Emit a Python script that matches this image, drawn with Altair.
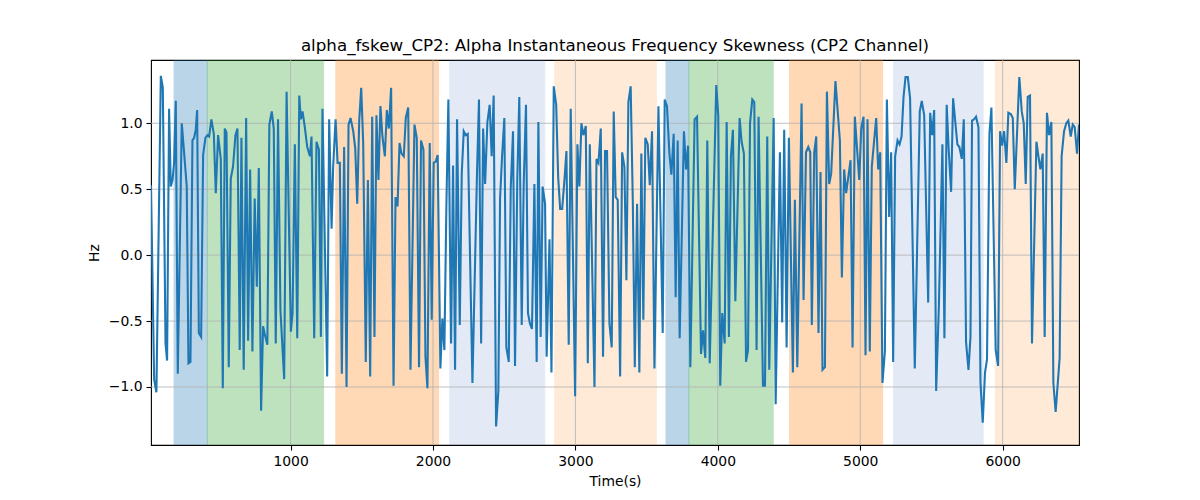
import altair as alt
import pandas as pd

TITLE = "alpha_fskew_CP2: Alpha Instantaneous Frequency Skewness (CP2 Channel)"

time_s = [
    20, 42, 58, 89, 103, 122, 133, 147, 159, 171, 182, 194, 208, 236, 253, 271, 283, 297, 311, 323,
    334, 344, 356, 372, 386, 402, 416, 428, 444, 461, 475, 491, 510, 524, 538, 550, 566, 580, 596, 613,
    627, 643, 655, 671, 688, 702, 716, 732, 748, 763, 777, 793, 807, 823, 837, 851, 868, 882, 896, 912, 929,
    955, 972, 1002, 1014, 1030, 1047, 1061, 1072, 1084, 1100, 1117, 1136, 1147, 1166, 1182, 1199, 1213, 1224, 1257, 1271,
    1288, 1299, 1316, 1330, 1346, 1360, 1376, 1393, 1407, 1421, 1440, 1454, 1468, 1482, 1496, 1510, 1528, 1543, 1559, 1573,
    1589, 1603, 1617, 1631, 1645, 1662, 1676, 1690, 1706, 1723, 1737, 1751, 1765, 1779, 1795, 1809, 1826, 1842,
    1870, 1886, 1902, 1916, 1933, 1947, 1961, 1977, 1991, 2005, 2019, 2033, 2052, 2066, 2080, 2094, 2108, 2127, 2141, 2155,
    2169, 2188, 2202, 2216, 2230, 2244, 2277, 2309, 2323, 2338, 2352, 2366, 2382, 2398, 2412, 2426, 2443, 2459, 2471, 2485,
    2501, 2515, 2532, 2546, 2562, 2576, 2592, 2606, 2623, 2637, 2653, 2667, 2681, 2695, 2712, 2728, 2740, 2756, 2770, 2787, 2798,
    2818, 2832, 2848, 2865, 2879, 2893, 2907, 2923, 2937, 2953, 2967, 2998, 3014, 3028, 3042, 3056, 3073, 3087, 3101, 3134,
    3148, 3162, 3178, 3194, 3208, 3222, 3239, 3255, 3269, 3283, 3297, 3314, 3328, 3344, 3358, 3372, 3388, 3403, 3417, 3433,
    3449, 3463, 3477, 3491, 3508, 3522, 3538, 3555, 3583, 3597, 3613, 3627, 3643, 3660, 3674, 3690, 3704, 3718,
    3732, 3762, 3777, 3791, 3807, 3837, 3854, 3882, 3896, 3912, 3926, 3943, 3989, 4003, 4017, 4031, 4048, 4062, 4078, 4092,
    4106, 4123, 4153, 4167, 4183, 4198, 4212, 4226, 4242, 4256, 4272, 4286, 4317, 4331, 4347, 4361, 4392, 4406, 4436, 4452,
    4466, 4483, 4499, 4527, 4541, 4558, 4588, 4602, 4619, 4635, 4649,
    4660, 4677, 4691, 4707, 4721, 4735, 4752, 4766, 4782, 4796, 4826, 4857, 4871, 4887, 4901, 4932, 4946, 4962, 4993, 5007,
    5023, 5037, 5051, 5067, 5081, 5112, 5126, 5140, 5156, 5173, 5187, 5203, 5217, 5231, 5245, 5262, 5276, 5290, 5304, 5318,
    5334, 5350, 5383, 5418, 5432, 5449, 5477, 5491, 5505, 5519, 5533, 5552,
    5577, 5591, 5607, 5621, 5638, 5652, 5682, 5696, 5713, 5727, 5743, 5760, 5774, 5785, 5799, 5813, 5830, 5844, 5860, 5876,
    5890, 5907, 5921, 5951, 5968, 5982, 5996, 6010, 6026, 6040, 6057, 6071, 6085, 6117, 6134, 6148, 6162, 6176, 6192, 6206,
    6237, 6251, 6265, 6281, 6295, 6311, 6326, 6342, 6356, 6372, 6400, 6414, 6431, 6447, 6461, 6478, 6492, 6506, 6522, 6536,
]

skew_hz = [
    0.53, -0.94, -1.04, 1.36, 1.27, -0.67, -0.80, 1.11, 0.52, 0.57, 0.70, 1.17, -0.90, 1.00, 0.77, 0.52, -0.82, -0.81, 0.87, 0.89,
    0.95, 1.10, -0.59, -0.62, 0.76, 0.89, 0.91, 0.90, 1.03, 0.92, 0.47, 0.91, 0.73, -1.01, 0.96, 0.93, -0.85, 0.58, 0.67, 0.91,
    0.96, -0.72, 0.89, -0.87, 1.04, -0.65, 0.65, -0.73, 0.43, -0.24, 0.66, -1.18, -0.54, -0.62, -0.68, 0.99, 1.09, 0.96, -0.67, 1.03, -0.42,
    -0.94, 1.24, -0.58, -0.44, 0.84, -0.63, 1.21, 1.03, 1.09, 0.97, 0.82, 0.75, 0.90, -0.63, 0.86, 0.80, -0.62, 1.11, -0.92, 1.03,
    0.20, 0.67, 1.03, 0.70, 0.70, -0.90, 0.82, -1.00, 0.99, 1.04, 0.94, 0.81, 0.39, 1.02, 1.27, 0.85, -0.81, 0.57, -0.92, 1.05,
    -0.62, 1.06, 0.57, 1.13, 0.90, 0.75, 1.10, 0.96, 1.27, -0.99, 0.44, 0.37, 0.85, 0.77, 0.75, 1.04, 1.12, -0.87,
    0.99, 0.89, -0.85, 0.87, 0.80, -0.77, -1.01, 0.85, -0.49, 0.70, 0.71, 0.76, -0.86, -0.48, -0.72, 0.37, 1.18, -0.67, 0.68, -0.87,
    1.03, -0.53, 0.62, 0.94, 0.91, 0.92, -0.97, 0.62, 1.18, -0.67, 0.96, 0.54, 1.01, 1.14, 0.75, 1.21, -1.30, -1.03, 0.43, 0.75,
    1.04, -0.70, -0.81, 0.51, 0.94, -0.84, 0.58, 1.20, -0.53, 0.54, 1.14, -0.44, -0.52, -0.56, 0.54, -0.81, 1.01, -0.62, 0.52, 0.39, -0.77,
    0.12, -0.89, 1.28, 1.14, 0.59, 0.35, 0.35, 0.57, 0.79, -0.68, 1.11, -1.07, 0.84, 0.52, 1.00, 0.91, 0.98, -0.82, 0.84, -1.00,
    0.73, 0.70, 0.96, -0.77, 0.79, 0.79, -0.52, -0.70, 1.09, 0.44, 0.42, -0.92, 0.78, 0.67, -0.19, 1.16, 1.28, 0.41, -0.85, 0.39,
    -0.89, 0.77, -0.49, 0.89, 0.84, 0.53, 0.94, -0.86, 1.13, 0.32, -0.59, 1.18, 1.13, 0.77, 0.61, 0.92, -0.32, 0.87,
    -0.63, 0.94, 0.65, 0.83, -0.85, 1.03, 1.05, -0.75, -0.57, -0.78, 0.87, -0.82, 1.29, 1.06, -0.99, -0.44, -0.67, 1.01, -0.62, 0.75,
    0.95, -0.35, 1.04, 0.86, 0.77, -0.81, -0.72, 1.00, 1.18, 1.16, -0.72, 1.05, -0.99, -0.99, 0.90, -0.87, 1.04, -1.13, 0.78, -0.51,
    0.95, -0.70, 0.89, -0.89, 0.42, -0.85, 1.15, -0.34, 0.78, 0.82, 0.78,
    -0.53, 0.78, 0.90, -0.59, 0.63, -0.87, -0.85, 1.24, 0.54, 0.62, 1.32, 0.87, -0.17, 0.65, 0.47, 0.72, -0.70, 1.05, 0.57, 0.96,
    1.05, -0.76, 1.03, -0.73, 0.67, 1.04, 0.65, 0.78, -0.97, -0.73, 1.18, 0.29, 0.78, -0.81, 0.75, 0.87, 0.84, 0.90, 1.20, 1.35,
    1.35, 1.19, -0.86, 1.09, 1.17, 1.06, -0.36, 1.08, 0.91, 1.10, -1.03, -0.39,
    0.84, -0.63, 1.14, 0.80, 0.48, 1.19, 0.84, 0.82, 0.73, 1.03, -0.66, -0.87, -0.62, 1.02, 1.03, 1.05, 0.97, -0.96, -1.27, -0.89,
    -0.79, 0.92, 1.12, -0.72, -0.84, 0.94, 0.83, 0.94, 0.70, 1.08, 1.07, 1.04, 0.50, 1.35, 1.09, 1.00, 0.54, 1.20, 1.21, -0.67,
    0.86, 0.75, 0.65, 0.77, -0.62, 1.08, 0.91, 1.01, -0.97, -1.19, -0.78, 0.75, 0.94, 1.00, 1.02, 0.90, 0.99, 0.97, 0.77, 0.99,
]

span_start = [182, 415, 1318, 2118, 2855, 3636, 3797, 4504, 5234, 5949]
span_end = [415, 1232, 2039, 2785, 3568, 3797, 4389, 5157, 5863, 6536]
span_color = ["#1f77b4", "#2ca02c", "#ff7f0e", "#4a78c8", "#ff7f0e",
              "#1f77b4", "#2ca02c", "#ff7f0e", "#4a78c8", "#ff7f0e"]
span_alpha = [0.3, 0.3, 0.3, 0.15, 0.16, 0.3, 0.3, 0.3, 0.15, 0.16]

x_ticks = [1000, 2000, 3000, 4000, 5000, 6000]
y_ticks = [-1.0, -0.5, 0.0, 0.5, 1.0]

X_DOMAIN = [20, 6536]
Y_DOMAIN = [-1.44, 1.48]

n = min(len(time_s), len(skew_hz))
line_df = pd.DataFrame({"time": time_s[:n], "value": skew_hz[:n]})
span_df = pd.DataFrame({"start": span_start, "end": span_end,
                        "top": [Y_DOMAIN[1]] * len(span_start),
                        "bottom": [Y_DOMAIN[0]] * len(span_start),
                        "color": span_color, "alpha": span_alpha})
xgrid_df = pd.DataFrame({"t": x_ticks})
ygrid_df = pd.DataFrame({"v": y_ticks})

xscale = alt.Scale(domain=X_DOMAIN, nice=False, zero=False)
yscale = alt.Scale(domain=Y_DOMAIN, nice=False, zero=False)

x_axis = alt.Axis(values=x_ticks, format="d", title="Time(s)", grid=False,
                  tickSize=5, tickColor="black", labelColor="black",
                  titleColor="black", domain=False, labelPadding=4, titlePadding=7)
y_axis = alt.Axis(values=y_ticks, format=".1f", title="Hz", grid=False,
                  tickSize=5, tickColor="black", labelColor="black",
                  titleColor="black", domain=False, labelPadding=4, titlePadding=7)

spans = alt.Chart(span_df).mark_rect(strokeWidth=1, clip=True).encode(
    x=alt.X("start:Q", scale=xscale, axis=x_axis),
    x2="end:Q",
    y=alt.Y("top:Q", scale=yscale, axis=y_axis),
    y2="bottom:Q",
    color=alt.Color("color:N", scale=None),
    stroke=alt.Stroke("color:N", scale=None),
    opacity=alt.Opacity("alpha:Q", scale=None),
)

xgrid = alt.Chart(xgrid_df).mark_rule(color="#b0b0b0", strokeWidth=0.8).encode(
    x=alt.X("t:Q", scale=xscale, axis=x_axis)
)
ygrid = alt.Chart(ygrid_df).mark_rule(color="#b0b0b0", strokeWidth=0.8).encode(
    y=alt.Y("v:Q", scale=yscale, axis=y_axis)
)

line = alt.Chart(line_df).mark_line(color="#1f77b4", strokeWidth=2.08, clip=True).encode(
    x=alt.X("time:Q", scale=xscale, axis=x_axis),
    y=alt.Y("value:Q", scale=yscale, axis=y_axis),
)

chart = alt.layer(spans, xgrid, ygrid, line).properties(
    width=928,
    height=385,
    title=alt.TitleParams(TITLE, anchor="middle", fontSize=16.7, font="DejaVu Sans",
                          fontWeight="normal", color="black", offset=5),
    autosize=alt.AutoSizeParams(type="none"),
    padding={"left": 143, "top": 52, "right": 113, "bottom": 47},
).configure_view(
    stroke="black", strokeWidth=1.1
).configure_axis(
    labelFont="DejaVu Sans", titleFont="DejaVu Sans",
    labelFontSize=13.9, titleFontSize=13.9, titleFontWeight="normal",
    tickWidth=1.1,
)

chart.save("out.html", embed_options={"renderer": "svg", "actions": False})
